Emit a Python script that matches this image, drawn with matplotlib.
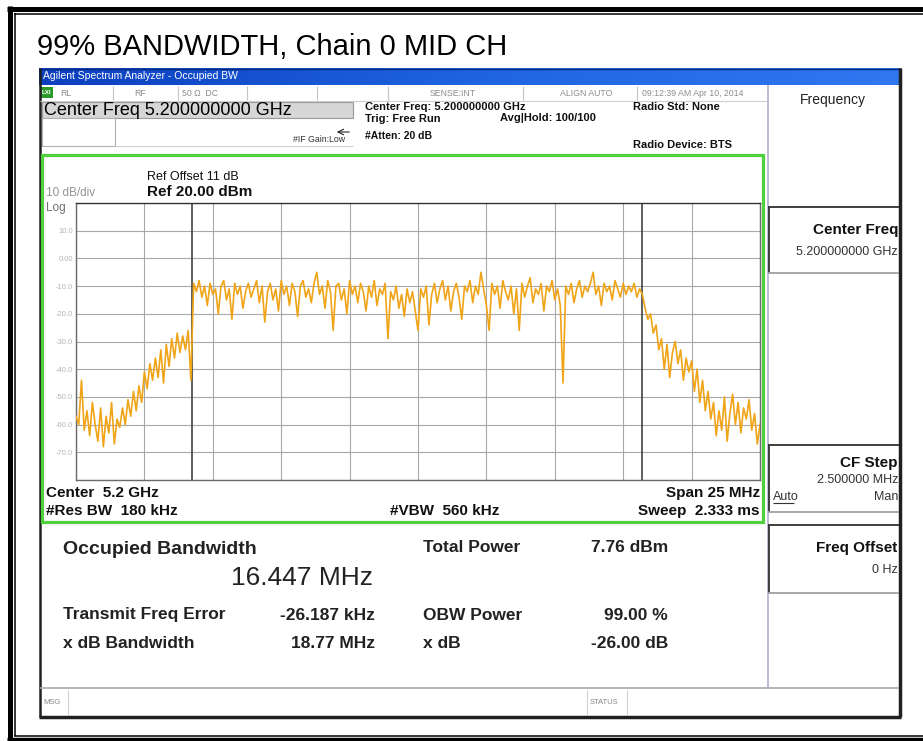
import numpy as np
import matplotlib
matplotlib.use('Agg')
import matplotlib.pyplot as plt
from matplotlib.patches import Rectangle
from matplotlib.colors import LinearSegmentedColormap

plt.rcParams['font.family'] = ['Liberation Sans', 'DejaVu Sans']

# analyzer settings
span_mhz = 25.0
ref_dbm = 20.0
db_div = 10
obw_mhz = 16.447
freq_err_khz = -26.187

# trace, 0.1 MHz steps from -12.5 to +12.5 MHz
lower_skirt = [-57, -60, -44, -62, -55, -64, -52, -60, -66, -54,
               -68, -57, -63, -52, -67, -58, -61, -54, -60, -51,
               -57, -48, -55, -46, -52, -41, -47, -38, -44, -36,
               -43, -33, -45, -31, -39, -29, -36, -27, -34, -28,
               -33, -26, -44]
in_band = [-9, -12, -8, -14, -10, -17, -9, -13, -11, -20,
           -10, -8, -15, -11, -22, -9, -13, -10, -18, -12,
           -9, -14, -11, -8, -16, -10, -23, -12, -9, -15,
           -11, -19, -8, -13, -10, -17, -9, -12, -21, -10,
           -8, -14, -11, -16, -9, -5, -13, -10, -18, -8,
           -12, -26, -10, -9, -15, -11, -20, -8, -13, -10,
           -16, -9, -12, -19, -10, -14, -8, -17, -11, -13,
           -9, -29, -12, -15, -10, -18, -13, -21, -11, -16,
           -12, -19, -26, -11, -14, -10, -24, -13, -9, -16,
           -11, -8, -15, -10, -19, -12, -9, -14, -22, -10,
           -12, -8, -16, -10, -13, -5, -11, -17, -26, -9,
           -13, -10, -18, -8, -12, -15, -10, -20, -11, -26,
           -9, -14, -10, -7, -16, -11, -13, -9, -19, -10,
           -12, -8, -15, -11, -17, -45, -10, -13, -9, -16,
           -11, -8, -14, -10, -12, -9, -5, -13, -10, -17,
           -9, -12, -10, -15, -8, -11, -14, -9, -13, -10,
           -12, -9, -14, -11, -13]
upper_skirt = [-18, -22, -20, -27, -24, -33, -29, -40, -31, -43,
               -34, -30, -38, -33, -44, -36, -41, -37, -48, -40,
               -52, -44, -55, -48, -58, -52, -64, -55, -62, -50,
               -66, -56, -49, -60, -52, -63, -54, -58, -51, -62,
               -56, -67, -60]
level_dbm = lower_skirt + in_band + upper_skirt
freq_mhz = np.linspace(-span_mhz / 2, span_mhz / 2, len(level_dbm))

y_labels = ['', '-70.0', '-60.0', '-50.0', '-40.0', '-30.0', '-20.0',
            '-10.0', '0.00', '10.0', '']

fig = plt.figure(figsize=(9.23, 7.41), dpi=100)
bg = fig.add_axes([0, 0, 1, 1])
bg.set_xlim(0, 923)
bg.set_ylim(741, 0)
bg.axis('off')

def txt(x, y, s, size=9, bold=False, ha='left', color='#111111'):
    bg.text(x, y, s, fontsize=size, ha=ha, va='center', color=color,
            fontweight='bold' if bold else 'normal')

def line(xs, ys, color='#000000', lw=1.0):
    bg.plot(xs, ys, color=color, lw=lw, solid_capstyle='butt')

# outer double frame
line([7, 923], [8.5, 8.5], lw=3.6)
line([14, 923], [13.5, 13.5], lw=1.1)
line([9.5, 9.5], [6, 741], lw=3.6)
line([14.5, 14.5], [13, 736], lw=1.1)
line([14, 923], [735.5, 735.5], lw=1.1)
line([7, 923], [738.5, 738.5], lw=2.5)

txt(37, 47, '99% BANDWIDTH, Chain 0 MID CH', size=21, color='#000000')

# screenshot body
bg.add_patch(Rectangle((39, 68), 862, 649, facecolor='white',
                       edgecolor='none'))
grad = np.linspace(0, 1, 256).reshape(1, -1)
blue = LinearSegmentedColormap.from_list('bar', ['#0b3fbf', '#1f63e0', '#2f78f0'])
bg.imshow(grad, extent=(39, 901, 85, 68), aspect='auto', cmap=blue, zorder=1)
line([39, 901], [68.5, 68.5], color='#0a2a80', lw=1.0)
txt(43, 76, 'Agilent Spectrum Analyzer - Occupied BW', size=7.5, color='white')
line([39.5, 39.5], [68, 717], color='#202020', lw=1.8)
line([900, 900], [68, 717], color='#202020', lw=2.5)
line([39, 901], [716.5, 716.5], color='#202020', lw=2.5)

# status row
bg.add_patch(Rectangle((41, 87), 12, 11, facecolor='#2a9a2a', edgecolor='none'))
txt(42, 92.5, 'LXI', size=4.5, color='white', bold=True)
for sx in [113, 178, 247, 317, 388, 523, 637]:
    line([sx, sx], [86, 100], color='#c4c4c4', lw=0.8)
line([40, 767], [100.5, 100.5], color='#cfcfcf', lw=0.8)
for sx, s in [(60, 'RL'), (134, 'RF'), (182, '50 \u03a9  DC'), (430, 'SENSE:INT'),
              (560, 'ALIGN AUTO'), (642, '09:12:39 AM Apr 10, 2014')]:
    txt(sx, 93, s, size=6.3, color='#8c8c8c')

# center freq box and header info
bg.add_patch(Rectangle((42, 102), 311, 16, facecolor='#d6d6d6',
                       edgecolor='#9a9a9a', lw=0.8))
txt(44, 110.5, 'Center Freq 5.200000000 GHz', size=13, color='#000000')
bg.add_patch(Rectangle((42, 118), 73, 28, facecolor='white',
                       edgecolor='#b0b0b0', lw=0.8))
line([115, 353], [146, 146], color='#d0d0d0', lw=0.8)
txt(293, 140, '#IF Gain:Low', size=6.3, color='#333333')
bg.annotate('', xy=(334, 132), xytext=(352, 132),
            arrowprops=dict(arrowstyle='->', lw=0.8, color='#222222'))
txt(365, 107, 'Center Freq: 5.200000000 GHz', size=8, bold=True)
txt(365, 119, 'Trig: Free Run', size=8, bold=True)
txt(365, 136, '#Atten: 20 dB', size=7.5, bold=True)
txt(500, 118, 'Avg|Hold: 100/100', size=8, bold=True)
txt(633, 107, 'Radio Std: None', size=8, bold=True)
txt(633, 145, 'Radio Device: BTS', size=8, bold=True)

# right soft key panel
line([767.5, 767.5], [85, 688], color='#b4aecb', lw=1.2)
txt(833, 100, 'Frequency', size=10, ha='center', color='#222222')
for top, bot in [(207, 273), (445, 512), (525, 593)]:
    line([768, 899], [top, top], color='#303030', lw=1.3)
    line([768.5, 768.5], [top, bot], color='#303030', lw=1.3)
    line([768, 899], [bot, bot], color='#a0a0a0', lw=1.3)
txt(898, 230, 'Center Freq', size=11, bold=True, ha='right')
txt(898, 252, '5.200000000 GHz', size=9, ha='right', color='#333333')
txt(897, 463, 'CF Step', size=11, bold=True, ha='right')
txt(898, 480, '2.500000 MHz', size=9, ha='right', color='#333333')
txt(773, 497, 'Auto', size=9, color='#333333')
line([773, 794], [503, 503], color='#333333', lw=0.8)
txt(898, 497, 'Man', size=9, ha='right', color='#333333')
txt(897, 548, 'Freq Offset', size=11, bold=True, ha='right')
txt(898, 570, '0 Hz', size=9, ha='right', color='#333333')

# bottom status bar
line([40, 899], [688, 688], color='#a8a8a8', lw=1.2)
for sx in [68, 587, 627]:
    line([sx, sx], [690, 715], color='#d0d0d0', lw=0.8)
txt(43, 702, 'MSG', size=5.5, color='#888888')
txt(590, 702, 'STATUS', size=5.5, color='#888888')

# green measurement frame
bg.add_patch(Rectangle((41.5, 155), 721, 367, facecolor='none',
                       edgecolor='#4fd13c', lw=2.3, zorder=3))
txt(147, 177, 'Ref Offset 11 dB', size=9)
txt(147, 192, 'Ref 20.00 dBm', size=11, bold=True)
txt(46, 193, '10 dB/div', size=8.5, color='#949494')
txt(46, 208, 'Log', size=8.5, color='#707070')
txt(46, 493, 'Center  5.2 GHz', size=11, bold=True)
txt(46, 511, '#Res BW  180 kHz', size=11, bold=True)
txt(390, 511, '#VBW  560 kHz', size=11, bold=True)
txt(760, 493, 'Span 25 MHz', size=11, bold=True, ha='right')
txt(760, 511, 'Sweep  2.333 ms', size=11, bold=True, ha='right')

# measurement results
txt(63, 550, 'Occupied Bandwidth', size=14, bold=True, color='#222222')
txt(373, 578, f'{obw_mhz:.3f} MHz', size=19, ha='right', color='#222222')
txt(63, 615, 'Transmit Freq Error', size=12.5, bold=True, color='#222222')
txt(375, 615, f'{freq_err_khz:.3f} kHz', size=12.5, bold=True, ha='right', color='#222222')
txt(63, 643, 'x dB Bandwidth', size=12.5, bold=True, color='#222222')
txt(375, 643, '18.77 MHz', size=12.5, bold=True, ha='right', color='#222222')
txt(423, 548, 'Total Power', size=12.5, bold=True, color='#222222')
txt(668, 548, '7.76 dBm', size=12.5, bold=True, ha='right', color='#222222')
txt(423, 615, 'OBW Power', size=12.5, bold=True, color='#222222')
txt(668, 615, '99.00 %', size=12.5, bold=True, ha='right', color='#222222')
txt(423, 643, 'x dB', size=12.5, bold=True, color='#222222')
txt(668, 643, '-26.00 dB', size=12.5, bold=True, ha='right', color='#222222')

# spectrum graticule
ax = fig.add_axes([76 / 923, 1 - 480 / 741, 684 / 923, 277 / 741])
ax.plot(freq_mhz, level_dbm, color='#f0a418', lw=1.2, zorder=3)
obw_center = freq_err_khz / 1000.0
ax.axvline(obw_center - obw_mhz / 2, color='#333333', lw=1.1, zorder=2)
ax.axvline(obw_center + obw_mhz / 2, color='#333333', lw=1.1, zorder=2)
ax.set_xlim(-span_mhz / 2, span_mhz / 2)
ax.set_ylim(ref_dbm - 10 * db_div, ref_dbm)
ax.set_xticks(np.linspace(-span_mhz / 2, span_mhz / 2, 11))
ax.set_yticks(np.arange(ref_dbm - 10 * db_div, ref_dbm + 1, db_div))
ax.set_yticklabels(y_labels)
ax.grid(True, color='#a8a8a8', lw=0.8)
ax.tick_params(length=0, labelbottom=False, labelsize=5.5,
               labelcolor='#b4b4b4', pad=2)
for sp in ax.spines.values():
    sp.set_color('#6a6a6a')
    sp.set_linewidth(1.0)
ax.spines['top'].set_color('#333333')

fig.savefig('out.png', dpi=100)
